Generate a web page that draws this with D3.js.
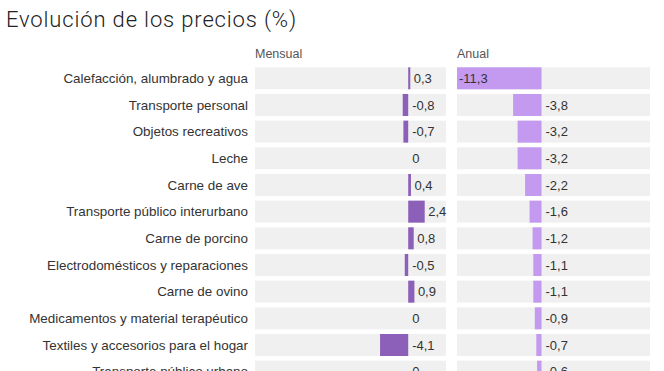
<!DOCTYPE html>
<html><head><meta charset="utf-8">
<script src="https://cdn.jsdelivr.net/npm/d3@7"></script>
<style>
html,body{margin:0;padding:0;background:#fff;}
svg{display:block;}
</style></head>
<body>
<script>
const title = "Evolución de los precios (%)";
const seriesNames = ["Mensual", "Anual"];
const categories = [
  "Calefacción, alumbrado y agua",
  "Transporte personal",
  "Objetos recreativos",
  "Leche",
  "Carne de ave",
  "Transporte público interurbano",
  "Carne de porcino",
  "Electrodomésticos y reparaciones",
  "Carne de ovino",
  "Medicamentos y material terapéutico",
  "Textiles y accesorios para el hogar",
  "Transporte público urbano"
];
const mensual = [0.3, -0.8, -0.7, 0, 0.4, 2.4, 0.8, -0.5, 0.9, 0, -4.1, 0];
const anual = [-11.3, -3.8, -3.2, -3.2, -2.2, -1.6, -1.2, -1.1, -1.1, -0.9, -0.7, -0.6];

const W = 664, H = 371;
const font = "'Liberation Sans', Arial, Helvetica, sans-serif";
const svg = d3.select("body").append("svg").attr("width", W).attr("height", H);

svg.append("text").attr("x", 6).attr("y", 27)
  .attr("font-family", "Roboto, 'Liberation Sans', sans-serif")
  .attr("font-weight", 300)
  .attr("font-size", 22).attr("letter-spacing", 0.85)
  .attr("fill", "#222").text(title);

const step = 26.67, pad = 4.67 / 26.67;
const y = d3.scaleBand().domain(categories)
  .range([67.3, 67.3 + step * (categories.length - pad)])
  .paddingInner(pad).paddingOuter(0);

const fmt = v => v === 0 ? "0" : v.toFixed(1).replace(".", ",");

const panels = [
  {name: seriesNames[0], values: mensual, x: d3.scaleLinear().domain([-22.3, 5.5]).range([255, 446]), color: "#8c5fb8"},
  {name: seriesNames[1], values: anual, x: d3.scaleLinear().domain([-11.3, 14.5]).range([457, 650]), color: "#c49af0"}
];

// category labels
svg.append("g").selectAll("text").data(categories).join("text")
  .attr("x", 248).attr("y", d => y(d) + y.bandwidth() / 2 + 4.6)
  .attr("text-anchor", "end").attr("font-family", font).attr("font-size", 13.4)
  .attr("fill", "#333").text(d => d);

panels.forEach(p => {
  const [x0, x1] = p.x.range();
  const g = svg.append("g");
  g.append("text").attr("x", x0).attr("y", 58).attr("font-family", font)
    .attr("font-size", 12.5).attr("fill", "#555").text(p.name);
  const rows = g.selectAll("g.row").data(categories.map((c, i) => ({c, v: p.values[i]})))
    .join("g").attr("class", "row");
  rows.append("rect").attr("x", x0).attr("width", x1 - x0)
    .attr("y", d => y(d.c)).attr("height", y.bandwidth()).attr("fill", "#f0f0f0");
  rows.append("rect")
    .attr("x", d => p.x(Math.min(0, d.v)))
    .attr("width", d => Math.abs(p.x(d.v) - p.x(0)))
    .attr("y", d => y(d.c)).attr("height", y.bandwidth()).attr("fill", p.color);
  rows.append("text")
    .attr("x", d => {
      if (d.v <= p.x.domain()[0]) return x0 + 2;
      return Math.max(p.x(0), p.x(d.v)) + (d.v > 0 ? 3.5 : 4);
    })
    .attr("y", d => y(d.c) + y.bandwidth() / 2 + 4.6)
    .attr("font-family", font).attr("font-size", 13).attr("fill", "#333")
    .text(d => fmt(d.v));
});
</script>
</body></html>
